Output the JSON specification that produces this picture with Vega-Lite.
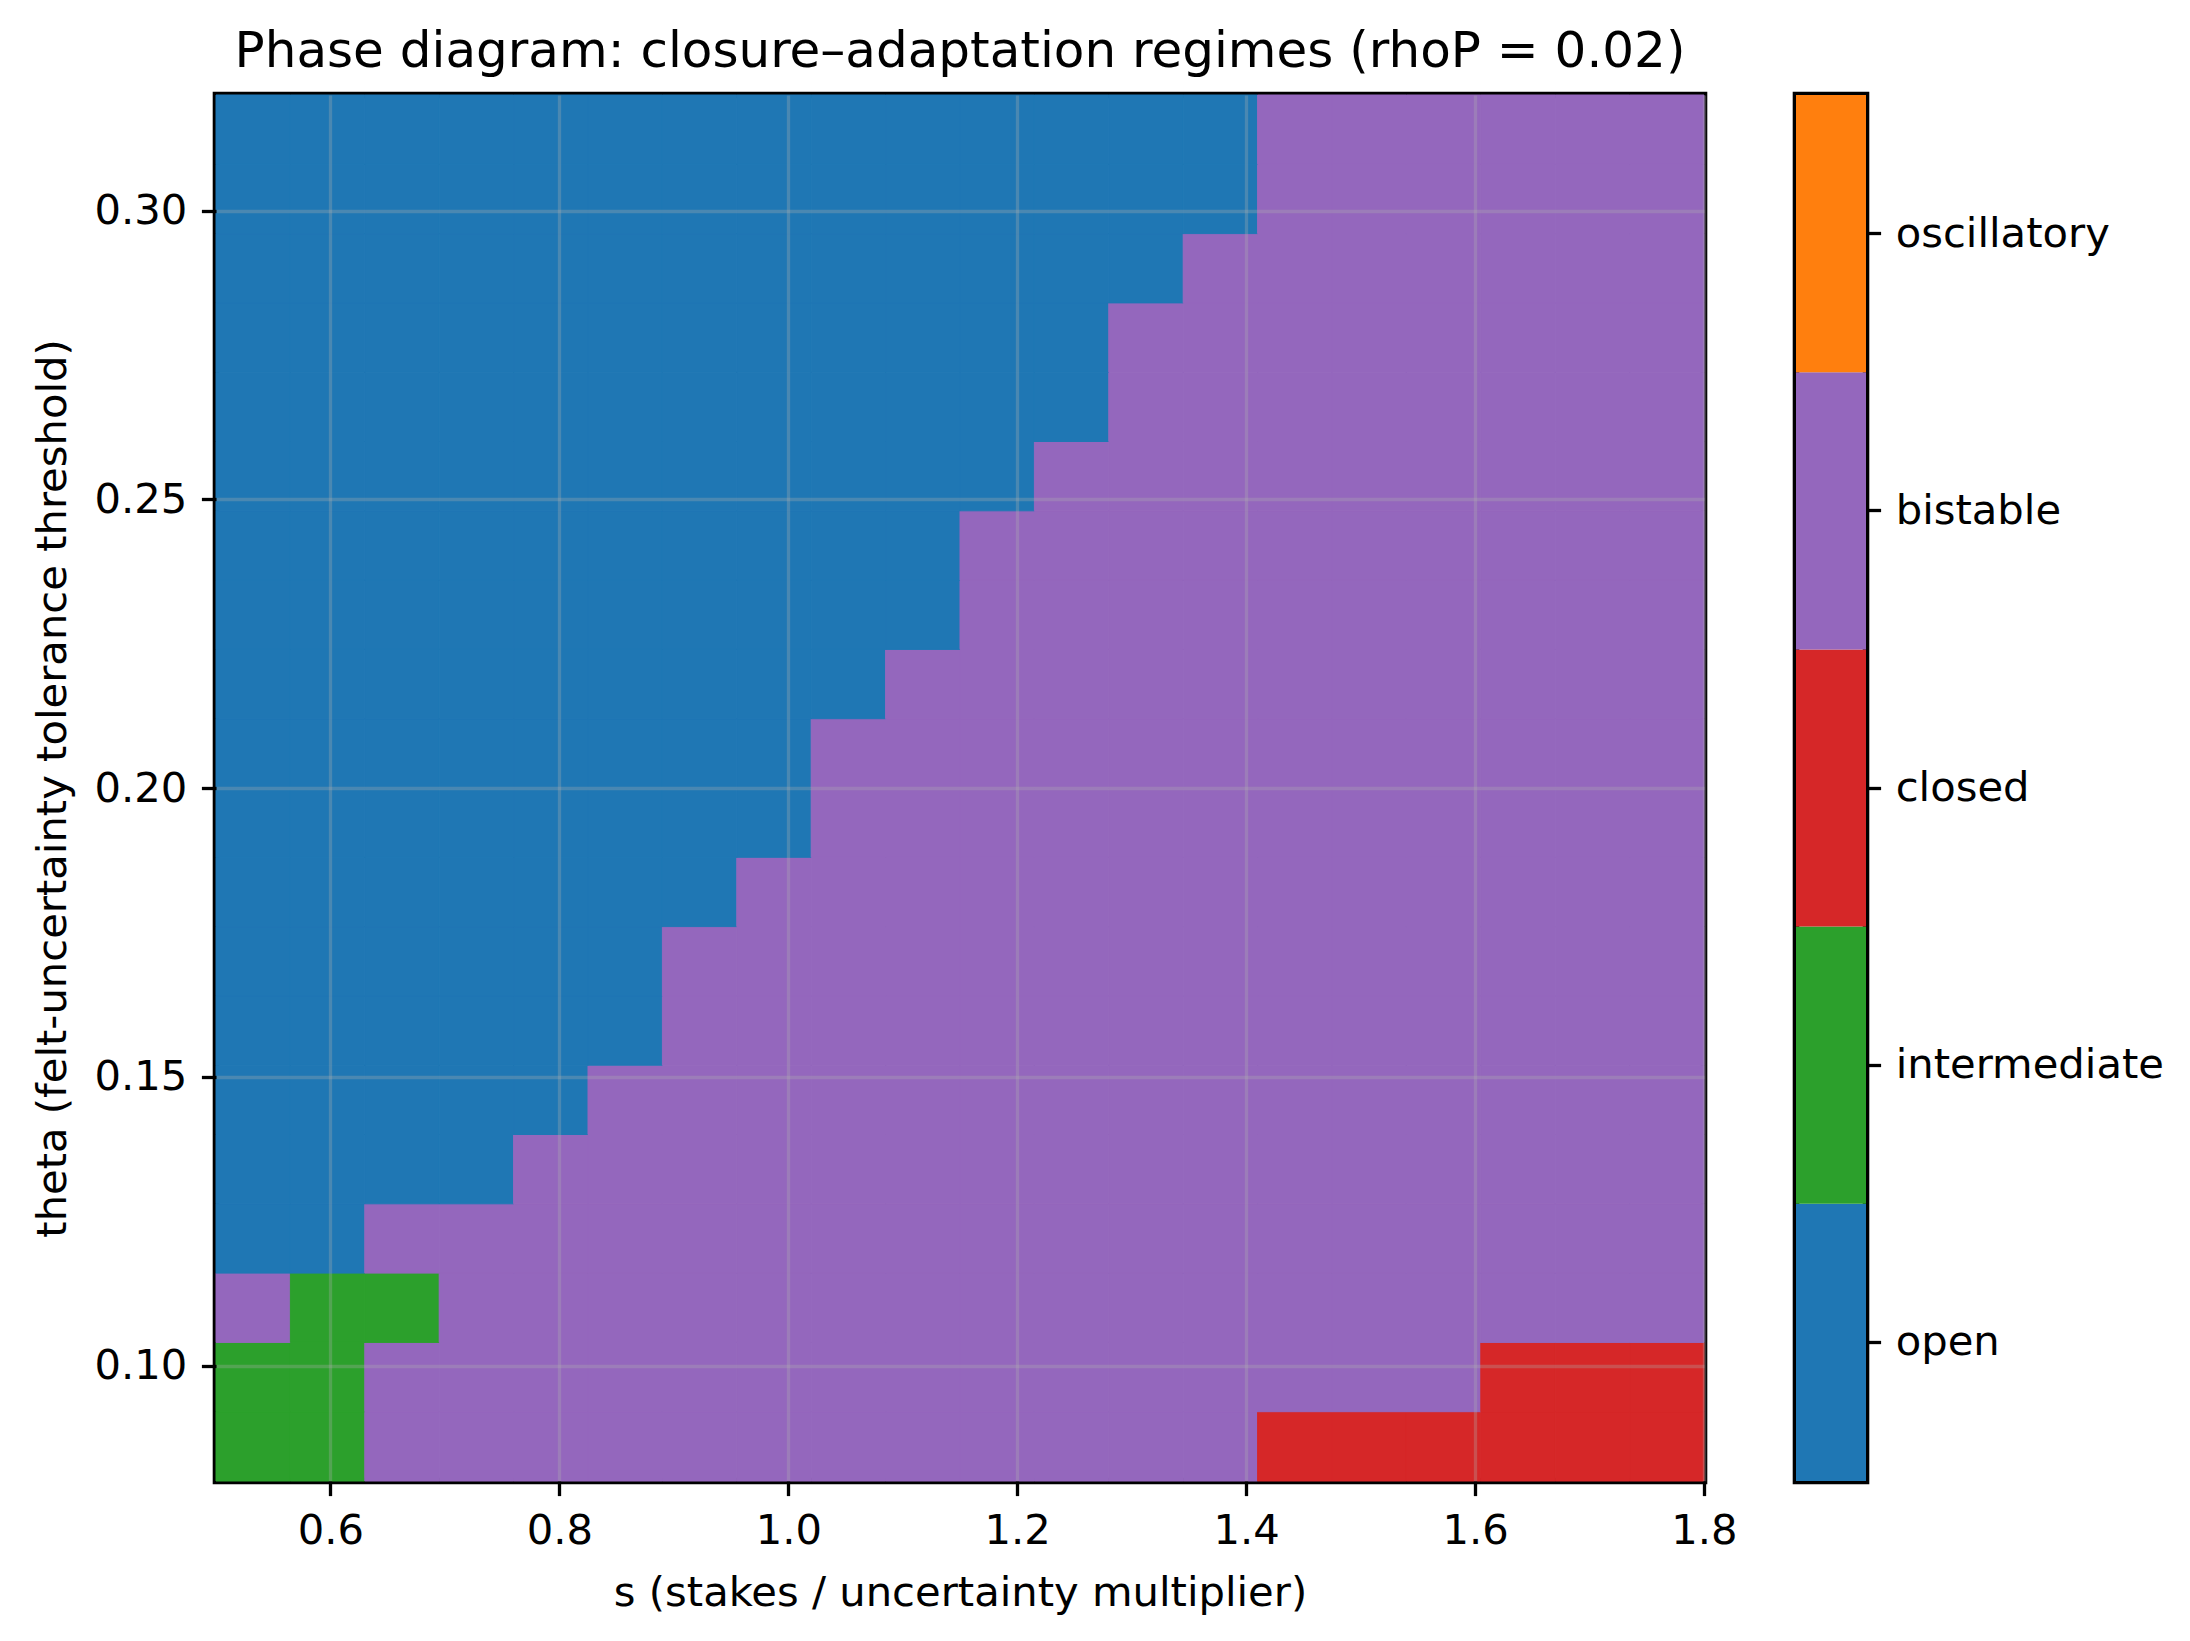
{
  "$schema": "https://vega.github.io/schema/vega-lite/v6.json",
  "background": "white",
  "padding": {"left": 28, "top": 23, "right": 5, "bottom": 5},
  "config": {
    "font": "DejaVu Sans",
    "view": {"stroke": "black", "strokeWidth": 6.6},
    "axis": {
      "labelFont": "DejaVu Sans",
      "labelFontSize": 41.7,
      "labelColor": "black",
      "labelPadding": 14.6,
      "labelFlush": false,
      "labelOverlap": false,
      "labelBound": false,
      "labelLimit": 0,
      "tickColor": "black",
      "tickWidth": 3.3,
      "tickSize": 14.6,
      "domain": false,
      "titleFont": "DejaVu Sans",
      "titleFontSize": 41.7,
      "titleFontWeight": "normal",
      "titleColor": "black",
      "titleLimit": 0
    }
  },
  "datasets": {
    "cells": [
      {"s":0.5325,"theta":0.086,"regime":"intermediate"},{"s":0.5975,"theta":0.086,"regime":"intermediate"},{"s":0.6625,"theta":0.086,"regime":"bistable"},{"s":0.7275,"theta":0.086,"regime":"bistable"},{"s":0.7925,"theta":0.086,"regime":"bistable"},{"s":0.8575,"theta":0.086,"regime":"bistable"},{"s":0.9225,"theta":0.086,"regime":"bistable"},{"s":0.9875,"theta":0.086,"regime":"bistable"},{"s":1.0525,"theta":0.086,"regime":"bistable"},{"s":1.1175,"theta":0.086,"regime":"bistable"},{"s":1.1825,"theta":0.086,"regime":"bistable"},{"s":1.2475,"theta":0.086,"regime":"bistable"},{"s":1.3125,"theta":0.086,"regime":"bistable"},{"s":1.3775,"theta":0.086,"regime":"bistable"},{"s":1.4425,"theta":0.086,"regime":"closed"},{"s":1.5075,"theta":0.086,"regime":"closed"},{"s":1.5725,"theta":0.086,"regime":"closed"},{"s":1.6375,"theta":0.086,"regime":"closed"},{"s":1.7025,"theta":0.086,"regime":"closed"},{"s":1.7675,"theta":0.086,"regime":"closed"},
      {"s":0.5325,"theta":0.098,"regime":"intermediate"},{"s":0.5975,"theta":0.098,"regime":"intermediate"},{"s":0.6625,"theta":0.098,"regime":"bistable"},{"s":0.7275,"theta":0.098,"regime":"bistable"},{"s":0.7925,"theta":0.098,"regime":"bistable"},{"s":0.8575,"theta":0.098,"regime":"bistable"},{"s":0.9225,"theta":0.098,"regime":"bistable"},{"s":0.9875,"theta":0.098,"regime":"bistable"},{"s":1.0525,"theta":0.098,"regime":"bistable"},{"s":1.1175,"theta":0.098,"regime":"bistable"},{"s":1.1825,"theta":0.098,"regime":"bistable"},{"s":1.2475,"theta":0.098,"regime":"bistable"},{"s":1.3125,"theta":0.098,"regime":"bistable"},{"s":1.3775,"theta":0.098,"regime":"bistable"},{"s":1.4425,"theta":0.098,"regime":"bistable"},{"s":1.5075,"theta":0.098,"regime":"bistable"},{"s":1.5725,"theta":0.098,"regime":"bistable"},{"s":1.6375,"theta":0.098,"regime":"closed"},{"s":1.7025,"theta":0.098,"regime":"closed"},{"s":1.7675,"theta":0.098,"regime":"closed"},
      {"s":0.5325,"theta":0.11,"regime":"bistable"},{"s":0.5975,"theta":0.11,"regime":"intermediate"},{"s":0.6625,"theta":0.11,"regime":"intermediate"},{"s":0.7275,"theta":0.11,"regime":"bistable"},{"s":0.7925,"theta":0.11,"regime":"bistable"},{"s":0.8575,"theta":0.11,"regime":"bistable"},{"s":0.9225,"theta":0.11,"regime":"bistable"},{"s":0.9875,"theta":0.11,"regime":"bistable"},{"s":1.0525,"theta":0.11,"regime":"bistable"},{"s":1.1175,"theta":0.11,"regime":"bistable"},{"s":1.1825,"theta":0.11,"regime":"bistable"},{"s":1.2475,"theta":0.11,"regime":"bistable"},{"s":1.3125,"theta":0.11,"regime":"bistable"},{"s":1.3775,"theta":0.11,"regime":"bistable"},{"s":1.4425,"theta":0.11,"regime":"bistable"},{"s":1.5075,"theta":0.11,"regime":"bistable"},{"s":1.5725,"theta":0.11,"regime":"bistable"},{"s":1.6375,"theta":0.11,"regime":"bistable"},{"s":1.7025,"theta":0.11,"regime":"bistable"},{"s":1.7675,"theta":0.11,"regime":"bistable"},
      {"s":0.5325,"theta":0.122,"regime":"open"},{"s":0.5975,"theta":0.122,"regime":"open"},{"s":0.6625,"theta":0.122,"regime":"bistable"},{"s":0.7275,"theta":0.122,"regime":"bistable"},{"s":0.7925,"theta":0.122,"regime":"bistable"},{"s":0.8575,"theta":0.122,"regime":"bistable"},{"s":0.9225,"theta":0.122,"regime":"bistable"},{"s":0.9875,"theta":0.122,"regime":"bistable"},{"s":1.0525,"theta":0.122,"regime":"bistable"},{"s":1.1175,"theta":0.122,"regime":"bistable"},{"s":1.1825,"theta":0.122,"regime":"bistable"},{"s":1.2475,"theta":0.122,"regime":"bistable"},{"s":1.3125,"theta":0.122,"regime":"bistable"},{"s":1.3775,"theta":0.122,"regime":"bistable"},{"s":1.4425,"theta":0.122,"regime":"bistable"},{"s":1.5075,"theta":0.122,"regime":"bistable"},{"s":1.5725,"theta":0.122,"regime":"bistable"},{"s":1.6375,"theta":0.122,"regime":"bistable"},{"s":1.7025,"theta":0.122,"regime":"bistable"},{"s":1.7675,"theta":0.122,"regime":"bistable"},
      {"s":0.5325,"theta":0.134,"regime":"open"},{"s":0.5975,"theta":0.134,"regime":"open"},{"s":0.6625,"theta":0.134,"regime":"open"},{"s":0.7275,"theta":0.134,"regime":"open"},{"s":0.7925,"theta":0.134,"regime":"bistable"},{"s":0.8575,"theta":0.134,"regime":"bistable"},{"s":0.9225,"theta":0.134,"regime":"bistable"},{"s":0.9875,"theta":0.134,"regime":"bistable"},{"s":1.0525,"theta":0.134,"regime":"bistable"},{"s":1.1175,"theta":0.134,"regime":"bistable"},{"s":1.1825,"theta":0.134,"regime":"bistable"},{"s":1.2475,"theta":0.134,"regime":"bistable"},{"s":1.3125,"theta":0.134,"regime":"bistable"},{"s":1.3775,"theta":0.134,"regime":"bistable"},{"s":1.4425,"theta":0.134,"regime":"bistable"},{"s":1.5075,"theta":0.134,"regime":"bistable"},{"s":1.5725,"theta":0.134,"regime":"bistable"},{"s":1.6375,"theta":0.134,"regime":"bistable"},{"s":1.7025,"theta":0.134,"regime":"bistable"},{"s":1.7675,"theta":0.134,"regime":"bistable"},
      {"s":0.5325,"theta":0.146,"regime":"open"},{"s":0.5975,"theta":0.146,"regime":"open"},{"s":0.6625,"theta":0.146,"regime":"open"},{"s":0.7275,"theta":0.146,"regime":"open"},{"s":0.7925,"theta":0.146,"regime":"open"},{"s":0.8575,"theta":0.146,"regime":"bistable"},{"s":0.9225,"theta":0.146,"regime":"bistable"},{"s":0.9875,"theta":0.146,"regime":"bistable"},{"s":1.0525,"theta":0.146,"regime":"bistable"},{"s":1.1175,"theta":0.146,"regime":"bistable"},{"s":1.1825,"theta":0.146,"regime":"bistable"},{"s":1.2475,"theta":0.146,"regime":"bistable"},{"s":1.3125,"theta":0.146,"regime":"bistable"},{"s":1.3775,"theta":0.146,"regime":"bistable"},{"s":1.4425,"theta":0.146,"regime":"bistable"},{"s":1.5075,"theta":0.146,"regime":"bistable"},{"s":1.5725,"theta":0.146,"regime":"bistable"},{"s":1.6375,"theta":0.146,"regime":"bistable"},{"s":1.7025,"theta":0.146,"regime":"bistable"},{"s":1.7675,"theta":0.146,"regime":"bistable"},
      {"s":0.5325,"theta":0.158,"regime":"open"},{"s":0.5975,"theta":0.158,"regime":"open"},{"s":0.6625,"theta":0.158,"regime":"open"},{"s":0.7275,"theta":0.158,"regime":"open"},{"s":0.7925,"theta":0.158,"regime":"open"},{"s":0.8575,"theta":0.158,"regime":"open"},{"s":0.9225,"theta":0.158,"regime":"bistable"},{"s":0.9875,"theta":0.158,"regime":"bistable"},{"s":1.0525,"theta":0.158,"regime":"bistable"},{"s":1.1175,"theta":0.158,"regime":"bistable"},{"s":1.1825,"theta":0.158,"regime":"bistable"},{"s":1.2475,"theta":0.158,"regime":"bistable"},{"s":1.3125,"theta":0.158,"regime":"bistable"},{"s":1.3775,"theta":0.158,"regime":"bistable"},{"s":1.4425,"theta":0.158,"regime":"bistable"},{"s":1.5075,"theta":0.158,"regime":"bistable"},{"s":1.5725,"theta":0.158,"regime":"bistable"},{"s":1.6375,"theta":0.158,"regime":"bistable"},{"s":1.7025,"theta":0.158,"regime":"bistable"},{"s":1.7675,"theta":0.158,"regime":"bistable"},
      {"s":0.5325,"theta":0.17,"regime":"open"},{"s":0.5975,"theta":0.17,"regime":"open"},{"s":0.6625,"theta":0.17,"regime":"open"},{"s":0.7275,"theta":0.17,"regime":"open"},{"s":0.7925,"theta":0.17,"regime":"open"},{"s":0.8575,"theta":0.17,"regime":"open"},{"s":0.9225,"theta":0.17,"regime":"bistable"},{"s":0.9875,"theta":0.17,"regime":"bistable"},{"s":1.0525,"theta":0.17,"regime":"bistable"},{"s":1.1175,"theta":0.17,"regime":"bistable"},{"s":1.1825,"theta":0.17,"regime":"bistable"},{"s":1.2475,"theta":0.17,"regime":"bistable"},{"s":1.3125,"theta":0.17,"regime":"bistable"},{"s":1.3775,"theta":0.17,"regime":"bistable"},{"s":1.4425,"theta":0.17,"regime":"bistable"},{"s":1.5075,"theta":0.17,"regime":"bistable"},{"s":1.5725,"theta":0.17,"regime":"bistable"},{"s":1.6375,"theta":0.17,"regime":"bistable"},{"s":1.7025,"theta":0.17,"regime":"bistable"},{"s":1.7675,"theta":0.17,"regime":"bistable"},
      {"s":0.5325,"theta":0.182,"regime":"open"},{"s":0.5975,"theta":0.182,"regime":"open"},{"s":0.6625,"theta":0.182,"regime":"open"},{"s":0.7275,"theta":0.182,"regime":"open"},{"s":0.7925,"theta":0.182,"regime":"open"},{"s":0.8575,"theta":0.182,"regime":"open"},{"s":0.9225,"theta":0.182,"regime":"open"},{"s":0.9875,"theta":0.182,"regime":"bistable"},{"s":1.0525,"theta":0.182,"regime":"bistable"},{"s":1.1175,"theta":0.182,"regime":"bistable"},{"s":1.1825,"theta":0.182,"regime":"bistable"},{"s":1.2475,"theta":0.182,"regime":"bistable"},{"s":1.3125,"theta":0.182,"regime":"bistable"},{"s":1.3775,"theta":0.182,"regime":"bistable"},{"s":1.4425,"theta":0.182,"regime":"bistable"},{"s":1.5075,"theta":0.182,"regime":"bistable"},{"s":1.5725,"theta":0.182,"regime":"bistable"},{"s":1.6375,"theta":0.182,"regime":"bistable"},{"s":1.7025,"theta":0.182,"regime":"bistable"},{"s":1.7675,"theta":0.182,"regime":"bistable"},
      {"s":0.5325,"theta":0.194,"regime":"open"},{"s":0.5975,"theta":0.194,"regime":"open"},{"s":0.6625,"theta":0.194,"regime":"open"},{"s":0.7275,"theta":0.194,"regime":"open"},{"s":0.7925,"theta":0.194,"regime":"open"},{"s":0.8575,"theta":0.194,"regime":"open"},{"s":0.9225,"theta":0.194,"regime":"open"},{"s":0.9875,"theta":0.194,"regime":"open"},{"s":1.0525,"theta":0.194,"regime":"bistable"},{"s":1.1175,"theta":0.194,"regime":"bistable"},{"s":1.1825,"theta":0.194,"regime":"bistable"},{"s":1.2475,"theta":0.194,"regime":"bistable"},{"s":1.3125,"theta":0.194,"regime":"bistable"},{"s":1.3775,"theta":0.194,"regime":"bistable"},{"s":1.4425,"theta":0.194,"regime":"bistable"},{"s":1.5075,"theta":0.194,"regime":"bistable"},{"s":1.5725,"theta":0.194,"regime":"bistable"},{"s":1.6375,"theta":0.194,"regime":"bistable"},{"s":1.7025,"theta":0.194,"regime":"bistable"},{"s":1.7675,"theta":0.194,"regime":"bistable"},
      {"s":0.5325,"theta":0.206,"regime":"open"},{"s":0.5975,"theta":0.206,"regime":"open"},{"s":0.6625,"theta":0.206,"regime":"open"},{"s":0.7275,"theta":0.206,"regime":"open"},{"s":0.7925,"theta":0.206,"regime":"open"},{"s":0.8575,"theta":0.206,"regime":"open"},{"s":0.9225,"theta":0.206,"regime":"open"},{"s":0.9875,"theta":0.206,"regime":"open"},{"s":1.0525,"theta":0.206,"regime":"bistable"},{"s":1.1175,"theta":0.206,"regime":"bistable"},{"s":1.1825,"theta":0.206,"regime":"bistable"},{"s":1.2475,"theta":0.206,"regime":"bistable"},{"s":1.3125,"theta":0.206,"regime":"bistable"},{"s":1.3775,"theta":0.206,"regime":"bistable"},{"s":1.4425,"theta":0.206,"regime":"bistable"},{"s":1.5075,"theta":0.206,"regime":"bistable"},{"s":1.5725,"theta":0.206,"regime":"bistable"},{"s":1.6375,"theta":0.206,"regime":"bistable"},{"s":1.7025,"theta":0.206,"regime":"bistable"},{"s":1.7675,"theta":0.206,"regime":"bistable"},
      {"s":0.5325,"theta":0.218,"regime":"open"},{"s":0.5975,"theta":0.218,"regime":"open"},{"s":0.6625,"theta":0.218,"regime":"open"},{"s":0.7275,"theta":0.218,"regime":"open"},{"s":0.7925,"theta":0.218,"regime":"open"},{"s":0.8575,"theta":0.218,"regime":"open"},{"s":0.9225,"theta":0.218,"regime":"open"},{"s":0.9875,"theta":0.218,"regime":"open"},{"s":1.0525,"theta":0.218,"regime":"open"},{"s":1.1175,"theta":0.218,"regime":"bistable"},{"s":1.1825,"theta":0.218,"regime":"bistable"},{"s":1.2475,"theta":0.218,"regime":"bistable"},{"s":1.3125,"theta":0.218,"regime":"bistable"},{"s":1.3775,"theta":0.218,"regime":"bistable"},{"s":1.4425,"theta":0.218,"regime":"bistable"},{"s":1.5075,"theta":0.218,"regime":"bistable"},{"s":1.5725,"theta":0.218,"regime":"bistable"},{"s":1.6375,"theta":0.218,"regime":"bistable"},{"s":1.7025,"theta":0.218,"regime":"bistable"},{"s":1.7675,"theta":0.218,"regime":"bistable"},
      {"s":0.5325,"theta":0.23,"regime":"open"},{"s":0.5975,"theta":0.23,"regime":"open"},{"s":0.6625,"theta":0.23,"regime":"open"},{"s":0.7275,"theta":0.23,"regime":"open"},{"s":0.7925,"theta":0.23,"regime":"open"},{"s":0.8575,"theta":0.23,"regime":"open"},{"s":0.9225,"theta":0.23,"regime":"open"},{"s":0.9875,"theta":0.23,"regime":"open"},{"s":1.0525,"theta":0.23,"regime":"open"},{"s":1.1175,"theta":0.23,"regime":"open"},{"s":1.1825,"theta":0.23,"regime":"bistable"},{"s":1.2475,"theta":0.23,"regime":"bistable"},{"s":1.3125,"theta":0.23,"regime":"bistable"},{"s":1.3775,"theta":0.23,"regime":"bistable"},{"s":1.4425,"theta":0.23,"regime":"bistable"},{"s":1.5075,"theta":0.23,"regime":"bistable"},{"s":1.5725,"theta":0.23,"regime":"bistable"},{"s":1.6375,"theta":0.23,"regime":"bistable"},{"s":1.7025,"theta":0.23,"regime":"bistable"},{"s":1.7675,"theta":0.23,"regime":"bistable"},
      {"s":0.5325,"theta":0.242,"regime":"open"},{"s":0.5975,"theta":0.242,"regime":"open"},{"s":0.6625,"theta":0.242,"regime":"open"},{"s":0.7275,"theta":0.242,"regime":"open"},{"s":0.7925,"theta":0.242,"regime":"open"},{"s":0.8575,"theta":0.242,"regime":"open"},{"s":0.9225,"theta":0.242,"regime":"open"},{"s":0.9875,"theta":0.242,"regime":"open"},{"s":1.0525,"theta":0.242,"regime":"open"},{"s":1.1175,"theta":0.242,"regime":"open"},{"s":1.1825,"theta":0.242,"regime":"bistable"},{"s":1.2475,"theta":0.242,"regime":"bistable"},{"s":1.3125,"theta":0.242,"regime":"bistable"},{"s":1.3775,"theta":0.242,"regime":"bistable"},{"s":1.4425,"theta":0.242,"regime":"bistable"},{"s":1.5075,"theta":0.242,"regime":"bistable"},{"s":1.5725,"theta":0.242,"regime":"bistable"},{"s":1.6375,"theta":0.242,"regime":"bistable"},{"s":1.7025,"theta":0.242,"regime":"bistable"},{"s":1.7675,"theta":0.242,"regime":"bistable"},
      {"s":0.5325,"theta":0.254,"regime":"open"},{"s":0.5975,"theta":0.254,"regime":"open"},{"s":0.6625,"theta":0.254,"regime":"open"},{"s":0.7275,"theta":0.254,"regime":"open"},{"s":0.7925,"theta":0.254,"regime":"open"},{"s":0.8575,"theta":0.254,"regime":"open"},{"s":0.9225,"theta":0.254,"regime":"open"},{"s":0.9875,"theta":0.254,"regime":"open"},{"s":1.0525,"theta":0.254,"regime":"open"},{"s":1.1175,"theta":0.254,"regime":"open"},{"s":1.1825,"theta":0.254,"regime":"open"},{"s":1.2475,"theta":0.254,"regime":"bistable"},{"s":1.3125,"theta":0.254,"regime":"bistable"},{"s":1.3775,"theta":0.254,"regime":"bistable"},{"s":1.4425,"theta":0.254,"regime":"bistable"},{"s":1.5075,"theta":0.254,"regime":"bistable"},{"s":1.5725,"theta":0.254,"regime":"bistable"},{"s":1.6375,"theta":0.254,"regime":"bistable"},{"s":1.7025,"theta":0.254,"regime":"bistable"},{"s":1.7675,"theta":0.254,"regime":"bistable"},
      {"s":0.5325,"theta":0.266,"regime":"open"},{"s":0.5975,"theta":0.266,"regime":"open"},{"s":0.6625,"theta":0.266,"regime":"open"},{"s":0.7275,"theta":0.266,"regime":"open"},{"s":0.7925,"theta":0.266,"regime":"open"},{"s":0.8575,"theta":0.266,"regime":"open"},{"s":0.9225,"theta":0.266,"regime":"open"},{"s":0.9875,"theta":0.266,"regime":"open"},{"s":1.0525,"theta":0.266,"regime":"open"},{"s":1.1175,"theta":0.266,"regime":"open"},{"s":1.1825,"theta":0.266,"regime":"open"},{"s":1.2475,"theta":0.266,"regime":"open"},{"s":1.3125,"theta":0.266,"regime":"bistable"},{"s":1.3775,"theta":0.266,"regime":"bistable"},{"s":1.4425,"theta":0.266,"regime":"bistable"},{"s":1.5075,"theta":0.266,"regime":"bistable"},{"s":1.5725,"theta":0.266,"regime":"bistable"},{"s":1.6375,"theta":0.266,"regime":"bistable"},{"s":1.7025,"theta":0.266,"regime":"bistable"},{"s":1.7675,"theta":0.266,"regime":"bistable"},
      {"s":0.5325,"theta":0.278,"regime":"open"},{"s":0.5975,"theta":0.278,"regime":"open"},{"s":0.6625,"theta":0.278,"regime":"open"},{"s":0.7275,"theta":0.278,"regime":"open"},{"s":0.7925,"theta":0.278,"regime":"open"},{"s":0.8575,"theta":0.278,"regime":"open"},{"s":0.9225,"theta":0.278,"regime":"open"},{"s":0.9875,"theta":0.278,"regime":"open"},{"s":1.0525,"theta":0.278,"regime":"open"},{"s":1.1175,"theta":0.278,"regime":"open"},{"s":1.1825,"theta":0.278,"regime":"open"},{"s":1.2475,"theta":0.278,"regime":"open"},{"s":1.3125,"theta":0.278,"regime":"bistable"},{"s":1.3775,"theta":0.278,"regime":"bistable"},{"s":1.4425,"theta":0.278,"regime":"bistable"},{"s":1.5075,"theta":0.278,"regime":"bistable"},{"s":1.5725,"theta":0.278,"regime":"bistable"},{"s":1.6375,"theta":0.278,"regime":"bistable"},{"s":1.7025,"theta":0.278,"regime":"bistable"},{"s":1.7675,"theta":0.278,"regime":"bistable"},
      {"s":0.5325,"theta":0.29,"regime":"open"},{"s":0.5975,"theta":0.29,"regime":"open"},{"s":0.6625,"theta":0.29,"regime":"open"},{"s":0.7275,"theta":0.29,"regime":"open"},{"s":0.7925,"theta":0.29,"regime":"open"},{"s":0.8575,"theta":0.29,"regime":"open"},{"s":0.9225,"theta":0.29,"regime":"open"},{"s":0.9875,"theta":0.29,"regime":"open"},{"s":1.0525,"theta":0.29,"regime":"open"},{"s":1.1175,"theta":0.29,"regime":"open"},{"s":1.1825,"theta":0.29,"regime":"open"},{"s":1.2475,"theta":0.29,"regime":"open"},{"s":1.3125,"theta":0.29,"regime":"open"},{"s":1.3775,"theta":0.29,"regime":"bistable"},{"s":1.4425,"theta":0.29,"regime":"bistable"},{"s":1.5075,"theta":0.29,"regime":"bistable"},{"s":1.5725,"theta":0.29,"regime":"bistable"},{"s":1.6375,"theta":0.29,"regime":"bistable"},{"s":1.7025,"theta":0.29,"regime":"bistable"},{"s":1.7675,"theta":0.29,"regime":"bistable"},
      {"s":0.5325,"theta":0.302,"regime":"open"},{"s":0.5975,"theta":0.302,"regime":"open"},{"s":0.6625,"theta":0.302,"regime":"open"},{"s":0.7275,"theta":0.302,"regime":"open"},{"s":0.7925,"theta":0.302,"regime":"open"},{"s":0.8575,"theta":0.302,"regime":"open"},{"s":0.9225,"theta":0.302,"regime":"open"},{"s":0.9875,"theta":0.302,"regime":"open"},{"s":1.0525,"theta":0.302,"regime":"open"},{"s":1.1175,"theta":0.302,"regime":"open"},{"s":1.1825,"theta":0.302,"regime":"open"},{"s":1.2475,"theta":0.302,"regime":"open"},{"s":1.3125,"theta":0.302,"regime":"open"},{"s":1.3775,"theta":0.302,"regime":"open"},{"s":1.4425,"theta":0.302,"regime":"bistable"},{"s":1.5075,"theta":0.302,"regime":"bistable"},{"s":1.5725,"theta":0.302,"regime":"bistable"},{"s":1.6375,"theta":0.302,"regime":"bistable"},{"s":1.7025,"theta":0.302,"regime":"bistable"},{"s":1.7675,"theta":0.302,"regime":"bistable"},
      {"s":0.5325,"theta":0.314,"regime":"open"},{"s":0.5975,"theta":0.314,"regime":"open"},{"s":0.6625,"theta":0.314,"regime":"open"},{"s":0.7275,"theta":0.314,"regime":"open"},{"s":0.7925,"theta":0.314,"regime":"open"},{"s":0.8575,"theta":0.314,"regime":"open"},{"s":0.9225,"theta":0.314,"regime":"open"},{"s":0.9875,"theta":0.314,"regime":"open"},{"s":1.0525,"theta":0.314,"regime":"open"},{"s":1.1175,"theta":0.314,"regime":"open"},{"s":1.1825,"theta":0.314,"regime":"open"},{"s":1.2475,"theta":0.314,"regime":"open"},{"s":1.3125,"theta":0.314,"regime":"open"},{"s":1.3775,"theta":0.314,"regime":"open"},{"s":1.4425,"theta":0.314,"regime":"bistable"},{"s":1.5075,"theta":0.314,"regime":"bistable"},{"s":1.5725,"theta":0.314,"regime":"bistable"},{"s":1.6375,"theta":0.314,"regime":"bistable"},{"s":1.7025,"theta":0.314,"regime":"bistable"},{"s":1.7675,"theta":0.314,"regime":"bistable"}
    ],
    "bar": [
      {"regime": "open"},
      {"regime": "intermediate"},
      {"regime": "closed"},
      {"regime": "bistable"},
      {"regime": "oscillatory"}
    ]
  },
  "bounds": "flush",
  "spacing": 92,
  "resolve": {"scale": {"x": "independent", "y": "independent", "color": "shared", "stroke": "shared"}},
  "hconcat": [
    {
      "width": 1488,
      "height": 1386,
      "title": {
        "text": "Phase diagram: closure–adaptation regimes (rhoP = 0.02)",
        "font": "DejaVu Sans",
        "fontSize": 50,
        "fontWeight": "normal",
        "color": "black",
        "anchor": "middle",
        "frame": "group",
        "baseline": "alphabetic",
        "offset": -22
      },
      "data": {"name": "cells"},
      "mark": {"type": "rect", "width": 74.4, "height": 69.3, "strokeWidth": 1},
      "encoding": {
        "x": {
          "field": "s",
          "type": "quantitative",
          "scale": {"domain": [0.5, 1.8], "nice": false, "zero": false},
          "axis": {
            "values": [0.6, 0.8, 1.0, 1.2, 1.4, 1.6, 1.8],
            "format": ".1f",
            "grid": true,
            "gridColor": "#b0b0b0",
            "gridOpacity": 0.3,
            "gridWidth": 3.3,
            "zindex": 1,
            "title": "s (stakes / uncertainty multiplier)",
            "titleBaseline": "alphabetic",
            "titleY": 124
          }
        },
        "y": {
          "field": "theta",
          "type": "quantitative",
          "scale": {"domain": [0.08, 0.32], "nice": false, "zero": false},
          "axis": {
            "values": [0.1, 0.15, 0.2, 0.25, 0.3],
            "format": ".2f",
            "grid": true,
            "gridColor": "#b0b0b0",
            "gridOpacity": 0.3,
            "gridWidth": 3.3,
            "zindex": 1,
            "title": "theta (felt-uncertainty tolerance threshold)",
            "titleAngle": -90,
            "titleAlign": "center",
            "titleBaseline": "alphabetic",
            "titleX": -151,
            "titleY": 693
          }
        },
        "color": {
          "field": "regime",
          "type": "nominal",
          "scale": {
            "domain": ["open", "intermediate", "closed", "bistable", "oscillatory"],
            "range": ["#1f77b4", "#2ca02c", "#d62728", "#9467bd", "#ff7f0e"]
          },
          "legend": null
        },
        "stroke": {
          "field": "regime",
          "type": "nominal",
          "scale": {
            "domain": ["open", "intermediate", "closed", "bistable", "oscillatory"],
            "range": ["#1f77b4", "#2ca02c", "#d62728", "#9467bd", "#ff7f0e"]
          },
          "legend": null
        }
      }
    },
    {
      "width": 70,
      "height": 1386,
      "data": {"name": "bar"},
      "mark": {"type": "rect"},
      "encoding": {
        "y": {
          "field": "regime",
          "type": "nominal",
          "scale": {
            "domain": ["oscillatory", "bistable", "closed", "intermediate", "open"],
            "paddingInner": 0,
            "paddingOuter": 0
          },
          "axis": {"orient": "right", "title": null, "grid": false, "labelAlign": "left", "labelBaseline": "middle"}
        },
        "color": {
          "field": "regime",
          "type": "nominal",
          "scale": {
            "domain": ["open", "intermediate", "closed", "bistable", "oscillatory"],
            "range": ["#1f77b4", "#2ca02c", "#d62728", "#9467bd", "#ff7f0e"]
          },
          "legend": null
        }
      }
    }
  ]
}
